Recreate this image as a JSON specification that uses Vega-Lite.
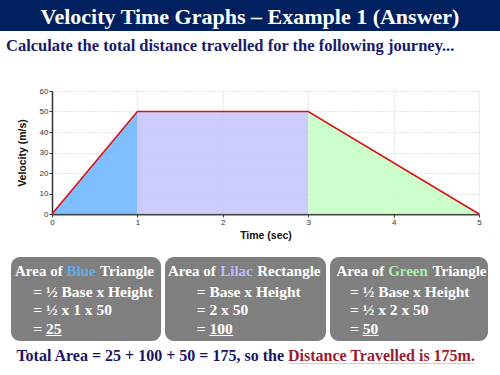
{
  "$schema": "https://vega.github.io/schema/vega-lite/v6.json",
  "padding": 0,
  "background": "white",
  "spacing": 6,
  "config": {
    "view": {"stroke": null},
    "text": {"font": "Liberation Serif", "fontWeight": "bold", "color": "white"}
  },
  "vconcat": [
    {
      "width": 500,
      "height": 31,
      "view": {"fill": "#002060", "stroke": null},
      "data": {"values": [{"label": "Velocity Time Graphs – Example 1 (Answer)"}]},
      "mark": {"type": "text", "fontSize": 22, "dy": 1},
      "encoding": {"text": {"field": "label"}}
    },
    {
      "spacing": 5,
      "hconcat": [
        {
          "width": 1,
          "height": 160,
          "data": {"values": [{}]},
          "mark": {"type": "text", "text": ""}
        },
        {
          "width": 427,
          "height": 123,
          "title": {
            "text": "Calculate the total distance travelled for the following journey...",
            "anchor": "start",
            "frame": "group",
            "dx": -46,
            "offset": 33,
            "font": "Liberation Serif",
            "fontSize": 16.5,
            "fontWeight": "bold",
            "color": "#1a1a6b"
          },
          "data": {"values": [
            {"t": 0, "v": 0, "seg": "Blue"},
            {"t": 1, "v": 50, "seg": "Blue"},
            {"t": 1, "v": 50, "seg": "Lilac"},
            {"t": 3, "v": 50, "seg": "Lilac"},
            {"t": 3, "v": 50, "seg": "Green"},
            {"t": 5, "v": 0, "seg": "Green"}
          ]},
          "encoding": {
            "x": {
              "field": "t", "type": "quantitative",
              "scale": {"domain": [0, 5], "nice": false},
              "axis": {
                "values": [0, 1, 2, 3, 4, 5], "title": "Time (sec)", "labelFlush": false,
                "labelFont": "Liberation Sans", "labelFontSize": 8, "labelColor": "#333",
                "titleFont": "Liberation Sans", "titleFontSize": 10.5, "titleFontWeight": "bold", "titleColor": "#111",
                "domainColor": "#444", "domainWidth": 2, "tickColor": "#444", "tickSize": 3,
                "labelPadding": 1, "titlePadding": 4, "labelAngle": 0,
                "grid": true, "gridColor": "#c8c8c8", "gridDash": [1, 2]
              }
            },
            "y": {
              "field": "v", "type": "quantitative",
              "scale": {"domain": [0, 60], "nice": false},
              "axis": {
                "values": [0, 10, 20, 30, 40, 50, 60], "title": "Velocity (m/s)",
                "labelFont": "Liberation Sans", "labelFontSize": 8, "labelColor": "#333",
                "titleFont": "Liberation Sans", "titleFontSize": 10.5, "titleFontWeight": "bold", "titleColor": "#111",
                "domainColor": "#333", "domainWidth": 1.5, "tickColor": "#333", "tickSize": 3,
                "labelPadding": 1, "titlePadding": 12,
                "grid": true, "gridColor": "#c8c8c8", "gridDash": [1, 2]
              }
            }
          },
          "layer": [
            {
              "mark": {"type": "area", "opacity": 0.85},
              "encoding": {
                "y": {"field": "v", "type": "quantitative", "stack": null},
                "color": {
                  "field": "seg", "type": "nominal",
                  "scale": {"domain": ["Blue", "Lilac", "Green"], "range": ["#69b4ff", "#c3c3ff", "#c3ffc3"]},
                  "legend": null
                }
              }
            },
            {
              "mark": {"type": "line", "color": "#dd1111", "strokeWidth": 1.6}
            }
          ]
        }
      ]
    },
    {
      "spacing": 4,
      "hconcat": [
        {
          "width": 7,
          "height": 84,
          "data": {"values": [{}]},
          "mark": {"type": "text", "text": ""}
        },
        {
          "width": 150,
          "height": 84,
          "view": {"fill": "#7f7f7f", "stroke": null, "cornerRadius": 9},
          "data": {"values": [
            {"line": 1, "role": "left", "txt": "Area of"},
            {"line": 1, "role": "mid", "txt": "Blue"},
            {"line": 1, "role": "right", "txt": "Triangle"},
            {"line": 2, "role": "body", "txt": "= ½ Base x Height"},
            {"line": 3, "role": "body", "txt": "= ½ x 1 x 50"},
            {"line": 4, "role": "body", "txt": "= 25"},
            {"line": 4, "role": "ul", "txt": "= __"}
          ]},
          "encoding": {
            "y": {"field": "line", "type": "ordinal", "scale": {"type": "point", "domain": [1, 2, 3, 4], "padding": 0.75}, "axis": null},
            "text": {"field": "txt"}
          },
          "layer": [
            {"transform": [{"filter": "datum.role === 'left'"}], "mark": {"type": "text", "align": "left", "dx": -71, "fontSize": 15}},
            {"transform": [{"filter": "datum.role === 'mid'"}], "mark": {"type": "text", "align": "center", "dx": -5, "fontSize": 15, "color": "#66aaee"}},
            {"transform": [{"filter": "datum.role === 'right'"}], "mark": {"type": "text", "align": "right", "dx": 68, "fontSize": 15}},
            {"transform": [{"filter": "datum.role === 'body' || datum.role === 'ul'"}], "mark": {"type": "text", "align": "left", "dx": -52.7, "dy": 2, "fontSize": 15.5}}
          ]
        },
        {
          "width": 161,
          "height": 84,
          "view": {"fill": "#7f7f7f", "stroke": null, "cornerRadius": 9},
          "data": {"values": [
            {"line": 1, "role": "left", "txt": "Area of"},
            {"line": 1, "role": "mid", "txt": "Lilac"},
            {"line": 1, "role": "right", "txt": "Rectangle"},
            {"line": 2, "role": "body", "txt": "= Base x Height"},
            {"line": 3, "role": "body", "txt": "= 2 x 50"},
            {"line": 4, "role": "body", "txt": "= 100"},
            {"line": 4, "role": "ul", "txt": "= ___"}
          ]},
          "encoding": {
            "y": {"field": "line", "type": "ordinal", "scale": {"type": "point", "domain": [1, 2, 3, 4], "padding": 0.75}, "axis": null},
            "text": {"field": "txt"}
          },
          "layer": [
            {"transform": [{"filter": "datum.role === 'left'"}], "mark": {"type": "text", "align": "left", "dx": -77.5, "fontSize": 15}},
            {"transform": [{"filter": "datum.role === 'mid'"}], "mark": {"type": "text", "align": "center", "dx": -9, "fontSize": 15, "color": "#bbbbff"}},
            {"transform": [{"filter": "datum.role === 'right'"}], "mark": {"type": "text", "align": "right", "dx": 75, "fontSize": 15}},
            {"transform": [{"filter": "datum.role === 'body' || datum.role === 'ul'"}], "mark": {"type": "text", "align": "left", "dx": -48.8, "dy": 2, "fontSize": 15.5}}
          ]
        },
        {
          "width": 158,
          "height": 84,
          "view": {"fill": "#7f7f7f", "stroke": null, "cornerRadius": 9},
          "data": {"values": [
            {"line": 1, "role": "left", "txt": "Area of"},
            {"line": 1, "role": "mid", "txt": "Green"},
            {"line": 1, "role": "right", "txt": "Triangle"},
            {"line": 2, "role": "body", "txt": "= ½ Base x Height"},
            {"line": 3, "role": "body", "txt": "= ½ x 2 x 50"},
            {"line": 4, "role": "body", "txt": "= 50"},
            {"line": 4, "role": "ul", "txt": "= __"}
          ]},
          "encoding": {
            "y": {"field": "line", "type": "ordinal", "scale": {"type": "point", "domain": [1, 2, 3, 4], "padding": 0.75}, "axis": null},
            "text": {"field": "txt"}
          },
          "layer": [
            {"transform": [{"filter": "datum.role === 'left'"}], "mark": {"type": "text", "align": "left", "dx": -72.5, "fontSize": 15}},
            {"transform": [{"filter": "datum.role === 'mid'"}], "mark": {"type": "text", "align": "center", "dx": -1, "fontSize": 15, "color": "#aaeeaa"}},
            {"transform": [{"filter": "datum.role === 'right'"}], "mark": {"type": "text", "align": "right", "dx": 77.5, "fontSize": 15}},
            {"transform": [{"filter": "datum.role === 'body' || datum.role === 'ul'"}], "mark": {"type": "text", "align": "left", "dx": -59, "dy": 2, "fontSize": 15.5}}
          ]
        }
      ]
    },
    {
      "spacing": 0,
      "hconcat": [
        {
          "width": 15,
          "height": 14,
          "data": {"values": [{}]},
          "mark": {"type": "text", "text": ""}
        },
        {
          "width": 186,
          "height": 14,
          "data": {"values": [
            {"role": "a", "txt": "Total Area = 25 + 100 + 50 = 175, so the"},
            {"role": "b", "txt": "Distance Travelled is 175m."}
          ]},
          "encoding": {"text": {"field": "txt"}},
          "layer": [
            {
              "mark": {"type": "rule", "opacity": 0},
              "encoding": {
                "text": null,
                "x": {
                  "datum": 0, "type": "quantitative",
                  "scale": {"domain": [0, 1]},
                  "axis": {"labels": false, "ticks": false, "grid": false, "title": null, "domainColor": "#9b1c31", "domainWidth": 1.5}
                }
              }
            },
            {"transform": [{"filter": "datum.role === 'a'"}], "mark": {"type": "text", "align": "right", "baseline": "alphabetic", "dx": -97, "dy": 3.5, "fontSize": 16, "color": "#1b1464"}},
            {"transform": [{"filter": "datum.role === 'b'"}], "mark": {"type": "text", "align": "left", "baseline": "alphabetic", "dx": -93, "dy": 3.5, "fontSize": 16, "color": "#9b1c31"}}
          ]
        }
      ]
    }
  ]
}
